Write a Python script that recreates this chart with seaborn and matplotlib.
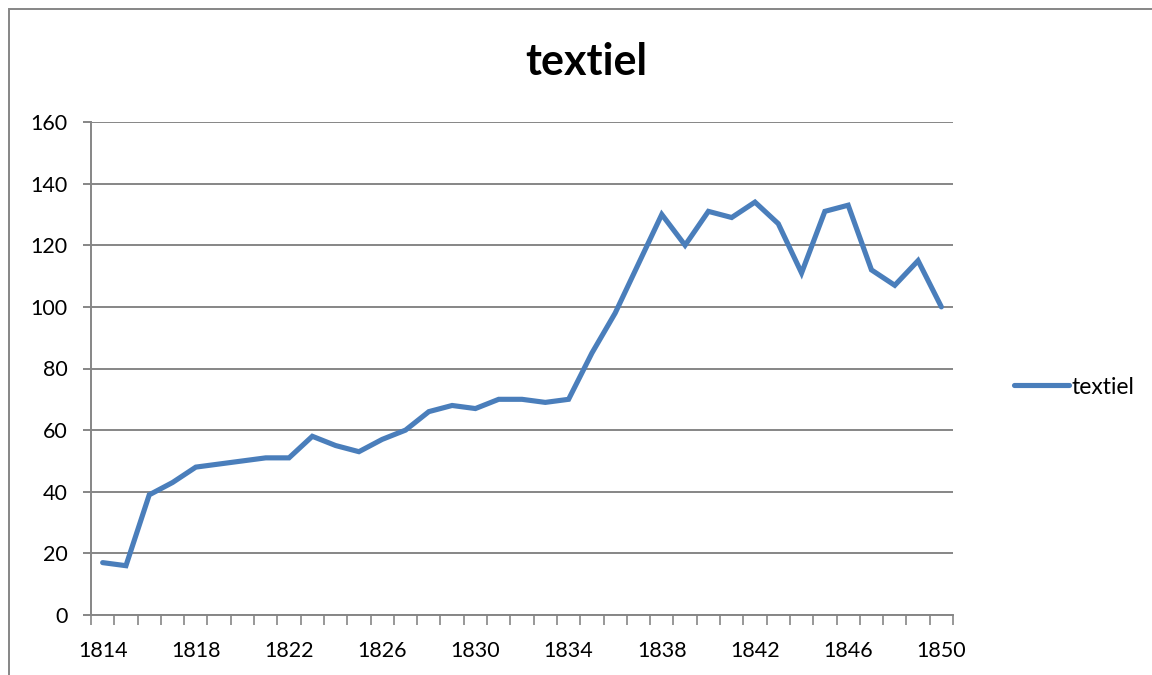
import numpy as np
import pandas as pd
import seaborn as sns
from matplotlib import pyplot as plt
from matplotlib.patches import Rectangle
from matplotlib.ticker import MultipleLocator, FixedLocator

years = list(range(1814, 1851))
textiel = [17, 16, 39, 43, 48, 49, 50, 51, 51, 58, 55, 53, 57, 60, 66, 68, 67, 70, 70, 69, 70,
           85, 98, 114, 130, 120, 131, 129, 134, 127, 111, 131, 133, 112, 107, 115, 100]
year_labels = [1814, 1818, 1822, 1826, 1830, 1834, 1838, 1842, 1846, 1850]

df = pd.DataFrame({"jaar": years, "textiel": textiel})

sns.set_style("white")
plt.rcParams['font.family'] = ['Lato', 'DejaVu Sans']
plt.rcParams['text.color'] = 'black'
plt.rcParams['xtick.labelcolor'] = 'black'
plt.rcParams['ytick.labelcolor'] = 'black'

grey = '#868686'
blue = '#4A7EBB'

fig = plt.figure(figsize=(11.52, 6.75), dpi=100)
ax = fig.add_axes([91/1152, 1 - 615/675, (953 - 91)/1152, (615 - 122)/675])

sns.lineplot(data=df, x="jaar", y="textiel", ax=ax, color=blue, linewidth=3.7,
             label="textiel", solid_joinstyle='miter')

ax.set_xlim(years[0] - 0.5, years[-1] + 0.5)
ax.set_ylim(0, 160)
ax.yaxis.set_major_locator(MultipleLocator(20))
ax.xaxis.set_major_locator(FixedLocator(year_labels))
ax.xaxis.set_minor_locator(FixedLocator([y - 0.5 for y in years] + [years[-1] + 0.5]))

ax.grid(axis='y', color=grey, linewidth=1.4)
ax.set_axisbelow(True)
for side in ['top', 'right']:
    ax.spines[side].set_visible(False)
for side in ['left', 'bottom']:
    ax.spines[side].set_color(grey)
    ax.spines[side].set_linewidth(1.4)

ax.tick_params(axis='y', which='major', left=True, length=6, width=1.4, color=grey,
               labelsize=15.5, pad=11)
ax.tick_params(axis='x', which='major', bottom=True, length=0, labelsize=15.5, pad=19)
ax.tick_params(axis='x', which='minor', bottom=True, length=7, width=1.2, color=grey)

ax.set_xlabel("")
ax.set_ylabel("")
fig.text(586/1152, 1 - 62/675, "textiel", fontsize=31, fontweight='bold',
         ha='center', va='center')

ax.legend(loc='center left', bbox_to_anchor=(1005/1152, 1 - 387/675),
          bbox_transform=fig.transFigure, frameon=False, fontsize=16.5,
          handlelength=2.4, handletextpad=0.1, borderaxespad=0)

fig.add_artist(Rectangle((9/1152, -0.5), 2.0, 1.5 - 9/675, transform=fig.transFigure,
                         fill=False, edgecolor=grey, linewidth=1.4))

fig.savefig("out.png", dpi=100)
